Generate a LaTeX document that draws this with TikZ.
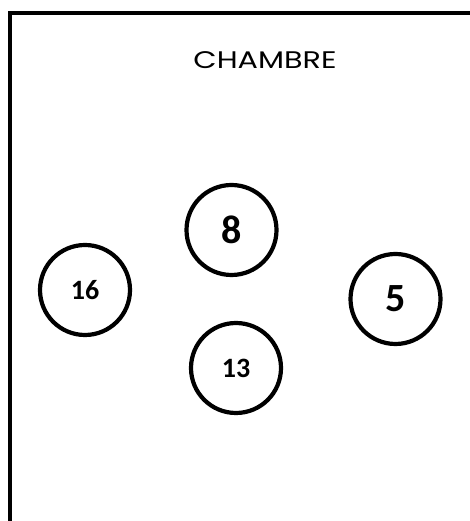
\documentclass[tikz,border=0pt]{standalone}
\usepackage{fontspec}
\setmainfont{Carlito}
\newfontfamily\titlefont{Poppins}
\begin{document}
\begin{tikzpicture}[x=1pt,y=1pt,
  seat/.style={circle,draw=black,line width=4.2pt,minimum size=90pt,inner sep=0pt,font=\bfseries},
  big/.style={font=\fontsize{40}{42}\selectfont\bfseries},
  small/.style={font=\fontsize{28}{30}\selectfont\bfseries}]
\useasboundingbox (0,0) rectangle (470,521);
\clip (0,0) rectangle (470,521);
\draw[line width=4.5pt,line cap=rect] (10,-10) coordinate (bl) -- (10,508) coordinate (tl) -- (480,508) coordinate (tr);
\node[font=\titlefont\fontsize{24}{26}\selectfont,xscale=1.26] (title) at (265,460.5) {CHAMBRE};
\node[seat,big] (n8) at (231.5,291) {8};
\node[seat,small] (n16) at (85,231) {16};
\node[seat,big] (n5) at (395.5,222) {5};
\node[seat,small] (n13) at (236,153) {13};
\end{tikzpicture}
\end{document}
